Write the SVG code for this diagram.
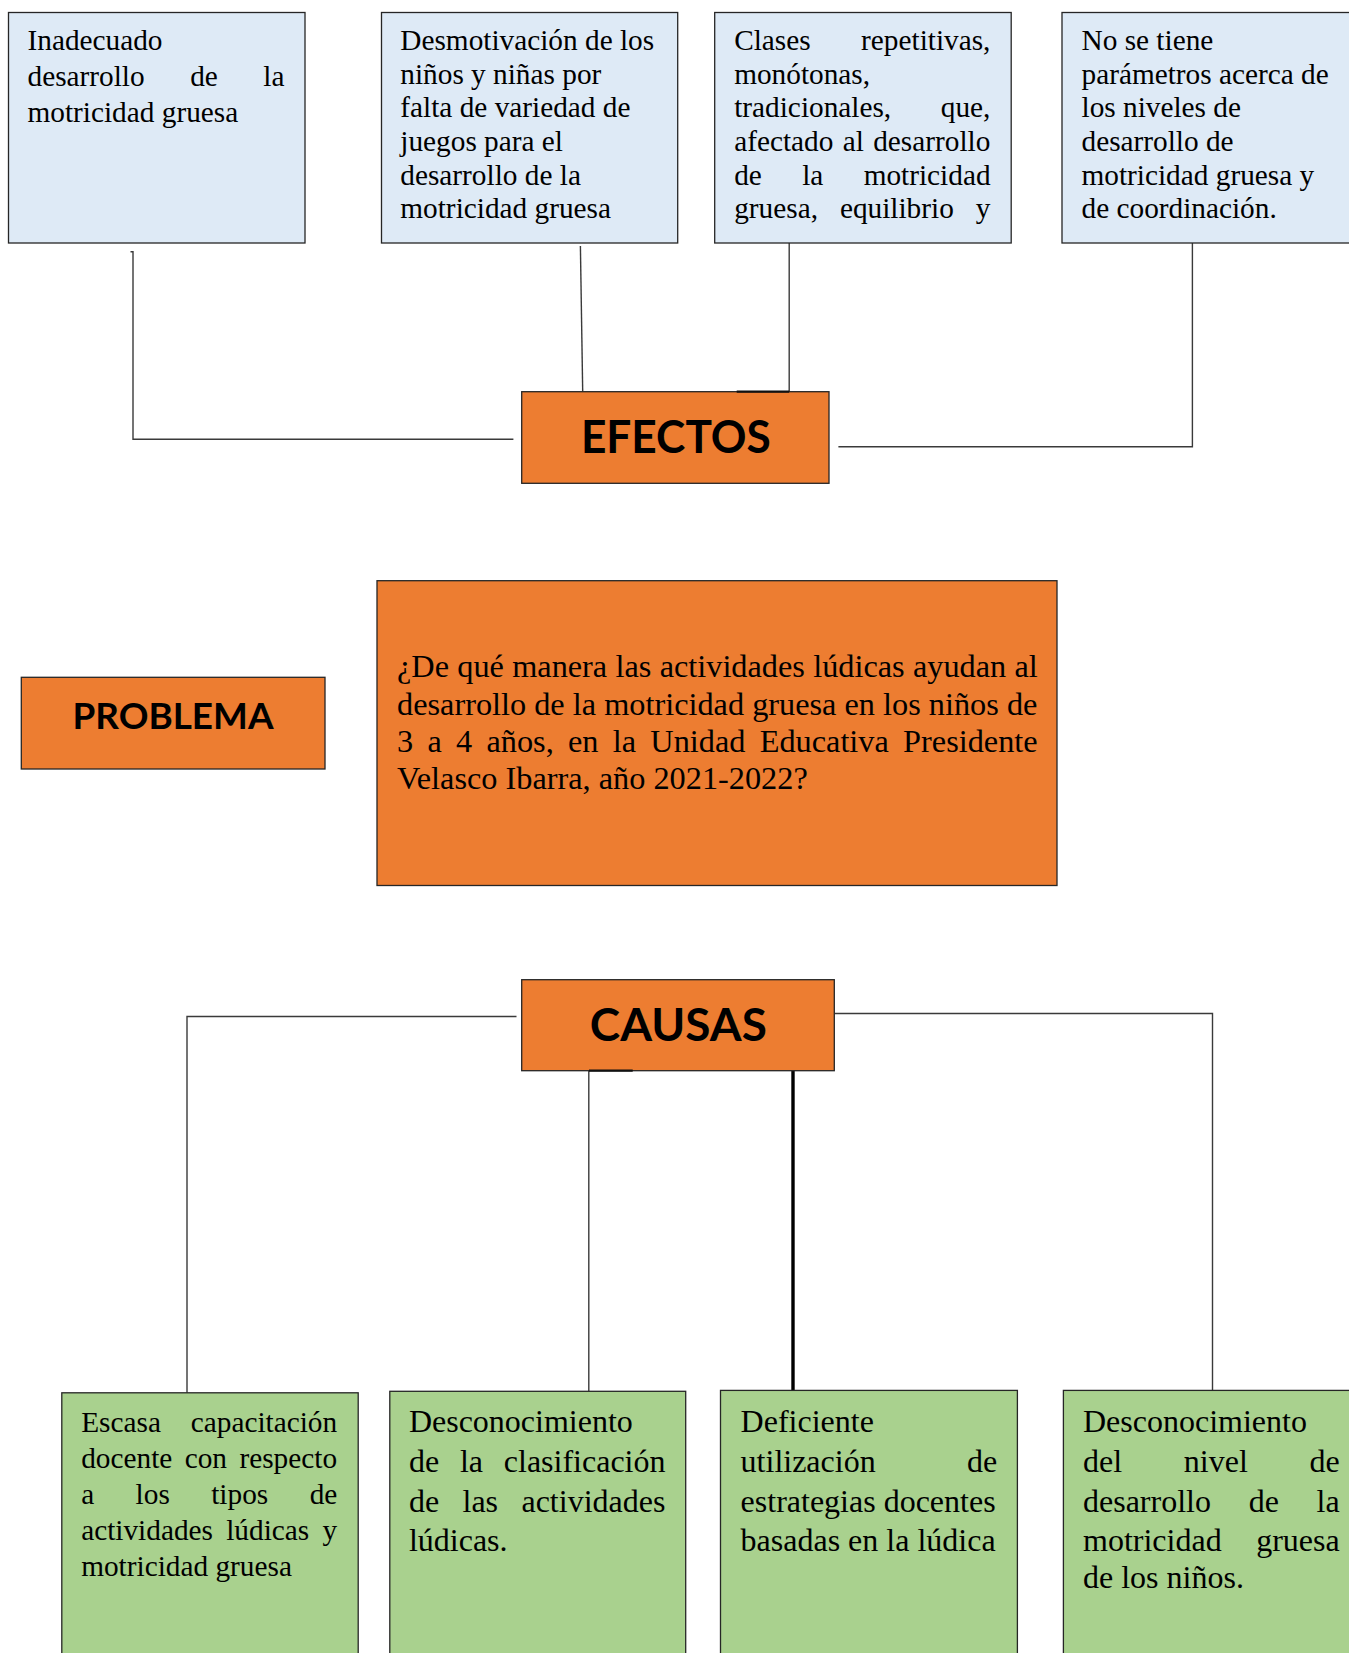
<svg xmlns="http://www.w3.org/2000/svg" width="1349" height="1653" viewBox="0 0 1349 1653">
<style>
.blue{fill:#DEEAF6;stroke:#262626;stroke-width:1.3}
.orange{fill:#ED7D31;stroke:#262626;stroke-width:1.3}
.green{fill:#A9D18E;stroke:#262626;stroke-width:1.3}
.t{font-family:"Liberation Serif","Times New Roman",serif;font-size:29.3px;fill:#000}
.q{font-family:"Liberation Serif","Times New Roman",serif;font-size:32px;fill:#000}
.qq{font-family:"Liberation Serif","Times New Roman",serif;font-size:32.3px;fill:#000}
.h{font-family:Lato,"Open Sans",sans-serif;font-weight:700;fill:#000;text-anchor:middle}
.c{fill:none;stroke:#3a3a3a;stroke-width:1.4}
.seg{fill:none;stroke:#111;stroke-width:2.2}
.thick{fill:none;stroke:#000;stroke-width:3.4}
</style>
<rect width="1349" height="1653" fill="#fff"/>
<g id="connectors">
<path class="c" d="M130.5,251.7 H133 V439.3 H513.4"/>
<path class="c" d="M580.4,246 L582.7,391.7"/>
<path class="c" d="M789.2,243 V391.7"/>
<path class="c" d="M838.4,446.7 H1192.4 V243"/>
<path class="c" d="M516.5,1016.5 H187 V1392.8"/>
<path class="c" d="M588.8,1071 V1391.3"/>
<path class="thick" d="M793,1071 V1390.4"/>
<path class="c" d="M834.8,1013.5 H1212.5 V1390.4"/>
</g>
<g id="efecto1">
<rect class="blue" x="8.5" y="12.5" width="296.5" height="230.5"/>
<text class="t" x="27.5" y="50">Inadecuado</text>
<text class="t" x="27.5" y="86.2" word-spacing="38.2">desarrollo de la</text>
<text class="t" x="27.5" y="121.8">motricidad gruesa</text>
</g>
<g id="efecto2">
<rect class="blue" x="381.5" y="12.5" width="296.2" height="230.5"/>
<text class="t"><tspan x="400.3" y="50">Desmotivación de los</tspan><tspan x="400.3" y="83.6">niños y niñas por</tspan><tspan x="400.3" y="117.3">falta de variedad de</tspan><tspan x="400.3" y="150.9">juegos para el</tspan><tspan x="400.3" y="184.6">desarrollo de la</tspan><tspan x="400.3" y="218.2">motricidad gruesa</tspan></text>
</g>
<g id="efecto3">
<rect class="blue" x="714.7" y="12.5" width="296.5" height="230.5"/>
<text class="t" x="734.2" y="50" word-spacing="43.1">Clases repetitivas,</text>
<text class="t" x="734.2" y="83.6">monótonas,</text>
<text class="t" x="734.2" y="117.3" word-spacing="42.3">tradicionales, que,</text>
<text class="t" x="734.2" y="150.9" word-spacing="2">afectado al desarrollo</text>
<text class="t" x="734.2" y="184.6" word-spacing="33">de la motricidad</text>
<text class="t" x="734.2" y="218.2" word-spacing="14.6">gruesa, equilibrio y</text>
</g>
<g id="efecto4">
<rect class="blue" x="1062" y="12.5" width="300" height="230.5"/>
<text class="t"><tspan x="1081.5" y="50">No se tiene</tspan><tspan x="1081.5" y="83.6">parámetros acerca de</tspan><tspan x="1081.5" y="117.3">los niveles de</tspan><tspan x="1081.5" y="150.9">desarrollo de</tspan><tspan x="1081.5" y="184.6">motricidad gruesa y</tspan><tspan x="1081.5" y="218.2">de coordinación.</tspan></text>
</g>
<g id="efectos">
<rect class="orange" x="521.7" y="391.7" width="307.3" height="91.6"/>
<path class="seg" d="M736.7,391.7 H789.2"/>
<text class="h" x="675.9" y="452.7" font-size="46.4" textLength="190" lengthAdjust="spacingAndGlyphs">EFECTOS</text>
</g>
<g id="problema">
<rect class="orange" x="21.3" y="677.3" width="303.7" height="91.7"/>
<text class="h" x="173" y="729" font-size="36.7" textLength="201" lengthAdjust="spacingAndGlyphs">PROBLEMA</text>
</g>
<g id="pregunta">
<rect class="orange" x="377" y="580.7" width="680" height="304.8"/>
<text class="qq" x="397" y="677.3" word-spacing="0.2">¿De qué manera las actividades lúdicas ayudan al</text>
<text class="qq" x="397" y="714.5">desarrollo de la motricidad gruesa en los niños de</text>
<text class="qq" x="397" y="751.7" word-spacing="6.2">3 a 4 años, en la Unidad Educativa Presidente</text>
<text class="qq" x="397" y="789">Velasco Ibarra, año 2021-2022?</text>
</g>
<g id="causas">
<rect class="orange" x="521.7" y="979.7" width="312.6" height="91"/>
<path class="seg" d="M589,1070.7 H632.7"/>
<text class="h" x="678.3" y="1040.7" font-size="46.5" textLength="177" lengthAdjust="spacingAndGlyphs">CAUSAS</text>
</g>
<g id="causa1">
<rect class="green" x="61.8" y="1392.8" width="296.4" height="280"/>
<text class="t" x="81.2" y="1432" word-spacing="22.5">Escasa capacitación</text>
<text class="t" x="81.2" y="1467.8" word-spacing="5.1">docente con respecto</text>
<text class="t" x="81.2" y="1503.8" word-spacing="34.1">a los tipos de</text>
<text class="t" x="81.2" y="1539.8" word-spacing="5.9">actividades lúdicas y</text>
<text class="t" x="81.2" y="1575.8">motricidad gruesa</text>
</g>
<g id="causa2">
<rect class="green" x="389.8" y="1391.3" width="295.9" height="280"/>
<text class="q" x="408.9" y="1432">Desconocimiento</text>
<text class="q" x="408.9" y="1472" word-spacing="12.8">de la clasificación</text>
<text class="q" x="408.9" y="1511.8" word-spacing="15.4">de las actividades</text>
<text class="q" x="408.9" y="1551.2">lúdicas.</text>
</g>
<g id="causa3">
<rect class="green" x="720.5" y="1390.4" width="296.9" height="280"/>
<text class="q" x="740.6" y="1432">Deficiente</text>
<text class="q" x="740.6" y="1471.7" word-spacing="83.4">utilización de</text>
<text class="q" x="740.6" y="1511.5">estrategias docentes</text>
<text class="q" x="740.6" y="1550.5">basadas en la lúdica</text>
</g>
<g id="causa4">
<rect class="green" x="1063.4" y="1390.4" width="300" height="280"/>
<text class="q" x="1083" y="1432">Desconocimiento</text>
<text class="q" x="1083" y="1471.7" word-spacing="53.7">del nivel de</text>
<text class="q" x="1083" y="1511.5" word-spacing="29.7">desarrollo de la</text>
<text class="q" x="1083" y="1550.5" word-spacing="26.5">motricidad gruesa</text>
<text class="q" x="1083" y="1588">de los niños.</text>
</g>
</svg>
